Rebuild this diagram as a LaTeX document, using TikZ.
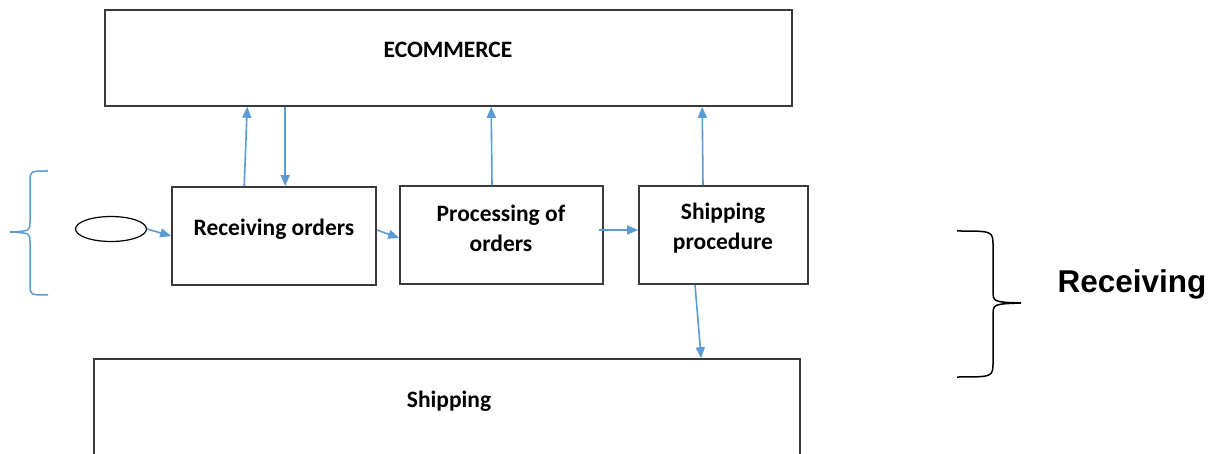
\documentclass[tikz,border=0pt]{standalone}
\usepackage{fontspec}
\setmainfont{Carlito}
\newfontfamily\arialfont{Liberation Sans}
\usetikzlibrary{arrows.meta,shapes.geometric,calc}
\definecolor{arrowblue}{HTML}{5B9BD5}
\definecolor{boxgray}{HTML}{3A3A3A}
\begin{document}
\begin{tikzpicture}[x=1pt,y=-1pt,
  boxnode/.style={draw=boxgray, line width=1.6pt, inner sep=0pt, minimum width=#1},
  boxtext/.style={font=\bfseries\fontsize{23.5}{30}\selectfont, align=center, inner sep=0pt},
  arr/.style={draw=arrowblue, line width=1.6pt, -{Triangle[length=11pt,width=9pt]}},
  bracepath/.style={line width=1.5pt}
]
\useasboundingbox (0,0) rectangle (1213,454);
\clip (0,0) rectangle (1213,454);
% boxes
\node[boxnode=687pt, minimum height=96pt] (ecom) at (448.5,58) {};
\node[boxnode=204pt, minimum height=98pt] (recv) at (274,236) {};
\node[boxnode=203pt, minimum height=98pt] (proc) at (501.5,235) {};
\node[boxnode=169pt, minimum height=98pt] (sp) at (723.5,235) {};
\node[boxnode=706pt, minimum height=142pt] (ship) at (447,430) {};
\node[draw=black, line width=1.2pt, ellipse, minimum width=71pt, minimum height=25pt, inner sep=0pt] (oval) at (111,229) {};
% texts
\node[boxtext] (ecomtxt) at (448,50) {ECOMMERCE};
\node[boxtext] (recvtxt) at (274,229) {Receiving orders};
\node[boxtext] (proctxt) at (501,228) {Processing of\\orders};
\node[boxtext] (sptxt) at (723,228) {Shipping\\procedure};
\node[boxtext] (shiptxt) at (449,401) {Shipping};
\node[font=\arialfont\bfseries\fontsize{31.5}{36}\selectfont, inner sep=0pt] (rcvlabel) at (1132,284) {Receiving};
% arrows
\draw[arr] (oval.east) -- (recv.west);
\draw[arr] ($(recv.north west)+(73,0)$) -- ($(ecom.south west)+(143,0)$);
\draw[arr] ($(ecom.south west)+(181,0)$) -- ($(recv.north west)+(114,0)$);
\draw[arr] ($(recv.east)+(0,-6)$) -- ($(proc.west)+(0,3)$);
\draw[arr] ($(proc.north)+(-9.5,0)$) -- ($(ecom.south west)+(387,0)$);
\draw[arr] ($(proc.east)+(-5,-5)$) -- ($(sp.west)+(0,-5)$);
\draw[arr] ($(sp.north)+(-20.5,0)$) -- ($(ecom.south west)+(598,0)$);
\draw[arr] ($(sp.south)+(-28.5,0)$) -- ($(ship.north west)+(608,0)$);
% braces
\draw[bracepath, draw=arrowblue] (48,171) .. controls (30,171) .. (30,182) -- (30,222)
  .. controls (30,231) .. (10,232) .. controls (30,233) .. (30,242) -- (30,284)
  .. controls (30,295) .. (48,295);
\draw[bracepath, draw=black] (957,231) .. controls (993,231) .. (993,246) -- (993,290)
  .. controls (993,302) .. (1021,303) .. controls (993,304) .. (993,316) -- (993,362)
  .. controls (993,377) .. (957,377);
\end{tikzpicture}
\end{document}
